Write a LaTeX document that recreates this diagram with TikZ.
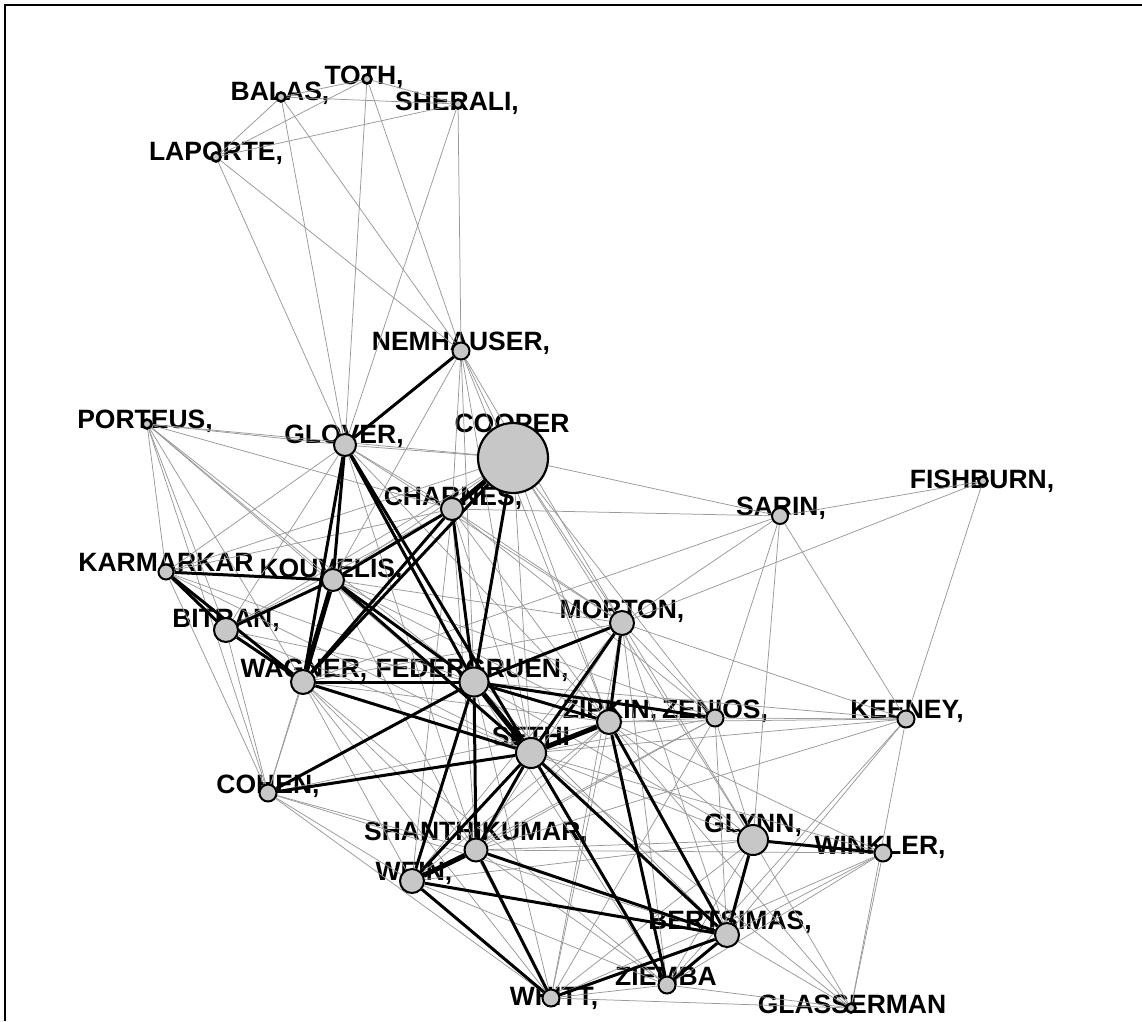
\documentclass[tikz,border=0pt]{standalone}
\usepackage{fontspec}
\setmainfont{Liberation Sans}
\definecolor{nodefill}{gray}{0.78}
\pgfdeclarelayer{bg}
\pgfdeclarelayer{edges}
\pgfsetlayers{bg,edges,main}
\begin{document}
\begin{tikzpicture}[x=1pt,y=-1pt,
  vert/.style={circle,draw=black,line width=2pt,fill=nodefill,inner sep=0pt},
  tiny/.style={vert,line width=2.6pt,minimum size=9pt},
  lbl/.style={font=\bfseries\fontsize{26.5}{26.5}\selectfont,inner sep=0pt,anchor=base},
  gedge/.style={draw=black!40,line width=0.75pt},
  bedge/.style={draw=black,line width=3pt},
  bbedge/.style={draw=black,line width=5pt}]
\useasboundingbox (0,0) rectangle (1142,1021);
% vertices
\node[tiny] (balas) at (281,97) {};
\node[tiny] (toth) at (367,79) {};
\node[tiny] (sherali) at (458,104) {};
\node[tiny] (laporte) at (216,157) {};
\node[vert,minimum size=17pt] (nemhauser) at (461,351) {};
\node[tiny] (porteus) at (147,424) {};
\node[vert,minimum size=22pt] (glover) at (345,445) {};
\node[vert,line width=2.2pt,minimum size=70pt] (cooper) at (513,458) {};
\node[vert,minimum size=22pt] (charnes) at (452,509) {};
\node[vert,minimum size=16pt] (sarin) at (780,516) {};
\node[tiny] (fishburn) at (983,481) {};
\node[vert,minimum size=15pt] (karmarkar) at (166,572) {};
\node[vert,minimum size=22pt] (kouvelis) at (333,580) {};
\node[vert,minimum size=24pt] (bitran) at (226,630) {};
\node[vert,minimum size=24pt] (morton) at (622,623) {};
\node[vert,minimum size=24pt] (wagner) at (303,682) {};
\node[vert,minimum size=29pt] (federgruen) at (474,682) {};
\node[vert,minimum size=24pt] (zipkin) at (609,722) {};
\node[vert,minimum size=17pt] (zenios) at (715,718) {};
\node[vert,minimum size=17pt] (keeney) at (906,719) {};
\node[vert,minimum size=30pt] (sethi) at (531,753) {};
\node[vert,minimum size=17pt] (cohen) at (268,793) {};
\node[vert,minimum size=30pt] (glynn) at (753,840) {};
\node[vert,minimum size=17pt] (winkler) at (883,853) {};
\node[vert,minimum size=23pt] (shanthikumar) at (476,850) {};
\node[vert,minimum size=24pt] (wein) at (412,881) {};
\node[vert,minimum size=24pt] (bertsimas) at (727,935) {};
\node[vert,minimum size=17pt] (ziemba) at (667,985) {};
\node[vert,minimum size=17pt] (whitt) at (551,998) {};
\node[tiny] (glasserman) at (851,1008) {};
% frame
\draw[line width=2pt] (5,1021) -- (5,5) -- (1142,5);
\begin{pgfonlayer}{bg}
\fill[white] (0,0) rectangle (1142,1021);
\node[lbl] (balas-l) at (280,100) {BALAS,};
\node[lbl] (toth-l) at (364,84) {TOTH,};
\node[lbl] (sherali-l) at (457,110) {SHERALI,};
\node[lbl] (laporte-l) at (216,160) {LAPORTE,};
\node[lbl] (nemhauser-l) at (461,350) {NEMHAUSER,};
\node[lbl] (porteus-l) at (145,428) {PORTEUS,};
\node[lbl] (glover-l) at (344,443) {GLOVER,};
\node[lbl] (cooper-l) at (512,432) {COOPER};
\node[lbl] (charnes-l) at (453,505) {CHARNES,};
\node[lbl] (sarin-l) at (781,515) {SARIN,};
\node[lbl] (fishburn-l) at (982,488) {FISHBURN,};
\node[lbl] (karmarkar-l) at (166,571) {KARMARKAR};
\node[lbl] (kouvelis-l) at (331,577) {KOUVELIS,};
\node[lbl] (bitran-l) at (226,627) {BITRAN,};
\node[lbl] (wagner-l) at (304,677) {WAGNER,};
\node[lbl] (federgruen-l) at (472,677) {FEDERGRUEN,};
\node[lbl] (morton-l) at (622,618) {MORTON,};
\node[lbl] (zipkin-l) at (610,718) {ZIPKIN,};
\node[lbl] (zenios-l) at (715,718) {ZENIOS,};
\node[lbl] (keeney-l) at (907,718) {KEENEY,};
\node[lbl] (sethi-l) at (531,745) {SETHI};
\node[lbl] (cohen-l) at (268,793) {COHEN,};
\node[lbl] (glynn-l) at (753,832) {GLYNN,};
\node[lbl] (winkler-l) at (880,854) {WINKLER,};
\node[lbl] (shanthikumar-l) at (476,840) {SHANTHIKUMAR,};
\node[lbl] (wein-l) at (414,880) {WEIN,};
\node[lbl] (bertsimas-l) at (730,929) {BERTSIMAS,};
\node[lbl] (ziemba-l) at (666,985) {ZIEMBA};
\node[lbl] (whitt-l) at (554,1005) {WHITT,};
\node[lbl] (glasserman-l) at (852,1013) {GLASSERMAN};
\end{pgfonlayer}
\begin{pgfonlayer}{edges}
% thin grey ties
\foreach \a/\b in {balas/toth,balas/sherali,toth/sherali,balas/laporte,laporte/toth,laporte/sherali,
  balas/glover,balas/nemhauser,toth/glover,toth/nemhauser,sherali/nemhauser,sherali/glover,laporte/glover,laporte/nemhauser,
  nemhauser/cooper,nemhauser/charnes,nemhauser/federgruen,nemhauser/sethi,nemhauser/morton,nemhauser/kouvelis,nemhauser/zipkin,
  porteus/glover,porteus/cooper,porteus/kouvelis,porteus/federgruen,porteus/sethi,porteus/wagner,porteus/karmarkar,porteus/bitran,porteus/cohen,porteus/charnes,
  glover/cooper,glover/charnes,glover/morton,glover/karmarkar,glover/bitran,glover/zipkin,glover/shanthikumar,
  cooper/sarin,cooper/morton,cooper/zipkin,cooper/sethi,cooper/zenios,cooper/kouvelis,cooper/karmarkar,cooper/glynn,cooper/bitran,
  charnes/sarin,charnes/sethi,charnes/zipkin,charnes/morton,charnes/shanthikumar,charnes/wein,charnes/zenios,charnes/bitran,charnes/karmarkar,
  sarin/morton,sarin/fishburn,sarin/keeney,sarin/zenios,sarin/glynn,sarin/wagner,
  fishburn/morton,fishburn/keeney,
  keeney/morton,keeney/zenios,keeney/zipkin,keeney/glasserman,keeney/bertsimas,keeney/ziemba,keeney/shanthikumar,keeney/sethi,
  winkler/glasserman,winkler/zipkin,winkler/sethi,winkler/bertsimas,winkler/ziemba,winkler/whitt,winkler/shanthikumar,
  glasserman/bertsimas,glasserman/glynn,glasserman/zipkin,glasserman/sethi,glasserman/ziemba,glasserman/whitt,
  morton/zenios,morton/glynn,morton/bertsimas,morton/whitt,morton/ziemba,morton/wein,morton/shanthikumar,morton/kouvelis,morton/wagner,
  zenios/zipkin,zenios/sethi,zenios/glynn,zenios/bertsimas,zenios/whitt,zenios/wein,zenios/shanthikumar,zenios/kouvelis,
  glynn/sethi,glynn/zipkin,glynn/wein,glynn/shanthikumar,glynn/whitt,glynn/ziemba,glynn/federgruen,
  zipkin/wein,zipkin/shanthikumar,zipkin/whitt,zipkin/cohen,zipkin/kouvelis,zipkin/wagner,
  cohen/wagner,cohen/kouvelis,cohen/bitran,cohen/karmarkar,cohen/wein,cohen/shanthikumar,cohen/whitt,cohen/bertsimas,
  wagner/wein,wagner/shanthikumar,wagner/whitt,wagner/ziemba,
  bitran/federgruen,bitran/sethi,karmarkar/federgruen,karmarkar/sethi,kouvelis/whitt,
  federgruen/whitt,federgruen/ziemba,federgruen/bertsimas,federgruen/keeney,
  shanthikumar/ziemba,wein/ziemba,whitt/ziemba}
  \draw[gedge] (\a) -- (\b);
% strong ties
\foreach \a/\b in {nemhauser/glover,glover/kouvelis,glover/wagner,glover/federgruen,glover/sethi,
  cooper/federgruen,charnes/federgruen,charnes/kouvelis,charnes/wagner,cooper/wagner,
  kouvelis/federgruen,kouvelis/sethi,kouvelis/karmarkar,kouvelis/bitran,karmarkar/bitran,karmarkar/wagner,bitran/wagner,
  wagner/federgruen,wagner/sethi,federgruen/zipkin,federgruen/zenios,federgruen/morton,federgruen/cohen,
  federgruen/shanthikumar,federgruen/wein,sethi/morton,morton/zipkin,sethi/cohen,sethi/wein,sethi/shanthikumar,
  sethi/ziemba,sethi/bertsimas,zipkin/bertsimas,zipkin/ziemba,shanthikumar/whitt,shanthikumar/bertsimas,
  wein/whitt,wein/bertsimas,whitt/bertsimas,ziemba/bertsimas,glynn/bertsimas,glynn/winkler}
  \draw[bedge] (\a) -- (\b);
\foreach \a/\b in {cooper/charnes,federgruen/sethi,sethi/zipkin,kouvelis/wagner,shanthikumar/wein}
  \draw[bbedge] (\a) -- (\b);
\end{pgfonlayer}
\end{tikzpicture}
\end{document}
